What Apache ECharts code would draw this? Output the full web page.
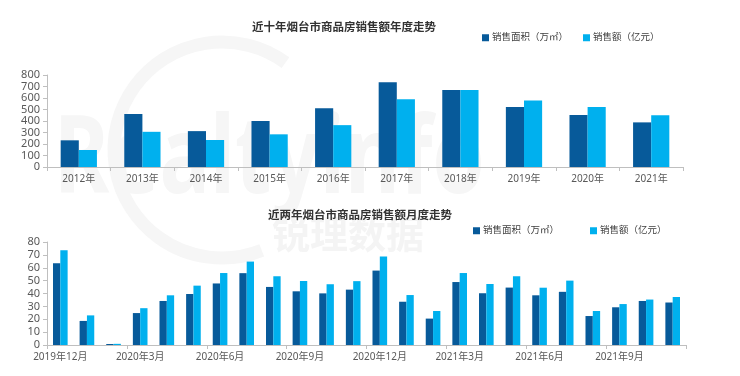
<!DOCTYPE html>
<html>
<head>
<meta charset="utf-8">
<script src="https://cdn.jsdelivr.net/npm/echarts@6/dist/echarts.min.js"></script>
<style>
  html, body { margin: 0; padding: 0; background: #fff; }
  #main { width: 740px; height: 376px; }
</style>
</head>
<body>
<div id="main"></div>
<script>
// 年度数据
const years = ['2012年', '2013年', '2014年', '2015年', '2016年', '2017年', '2018年', '2019年', '2020年', '2021年']
const yearArea = [232, 460, 312, 400, 510, 738, 670, 522, 452, 388]
const yearAmount = [148, 306, 235, 284, 364, 590, 670, 578, 522, 450]

// 月度数据 2019年12月 - 2021年11月
const months = [
  '2019年12月', '2020年1月', '2020年2月', '2020年3月', '2020年4月', '2020年5月',
  '2020年6月', '2020年7月', '2020年8月', '2020年9月', '2020年10月', '2020年11月',
  '2020年12月', '2021年1月', '2021年2月', '2021年3月', '2021年4月', '2021年5月',
  '2021年6月', '2021年7月', '2021年8月', '2021年9月', '2021年10月', '2021年11月'
]
const monthArea = [63.5, 18.7, 0.8, 24.8, 34.2, 39.6, 47.8, 55.8, 45.1, 41.7, 40.1, 43,
  57.8, 33.6, 20.5, 48.9, 40.2, 44.6, 38.6, 41.3, 22.5, 29.3, 34.2, 33]
const monthAmount = [73.6, 23, 0.9, 28.6, 38.6, 46.1, 55.9, 64.8, 53.4, 49.7, 47.2, 49.6,
  68.7, 38.8, 26.4, 55.9, 47.4, 53.4, 44.5, 50, 26.4, 31.8, 35.3, 37.3]

const AREA = '销售面积（万㎡）'
const AMOUNT = '销售额（亿元）'
const DARK = '#075a9a'
const LIGHT = '#00b0ee'
const FONT = "'Noto Sans', 'Noto Sans CJK SC', sans-serif"
const axisGrey = '#bfbfbf'
const labelGrey = '#595959'

const chart = echarts.init(document.getElementById('main'))

function legendItem(name, left, top) {
  return {
    left, top,
    icon: 'rect',
    itemWidth: 7,
    itemHeight: 7,
    itemGap: 0,
    selectedMode: false,
    data: [name],
    textStyle: { fontSize: 9.5, color: '#404040', fontFamily: FONT, padding: [0, 0, 0, -2] }
  }
}

function yAxis(gridIndex, max, interval) {
  return {
    type: 'value',
    gridIndex, min: 0, max, interval,
    axisLine: { show: true, lineStyle: { color: axisGrey } },
    axisTick: { show: true, length: 4, lineStyle: { color: axisGrey } },
    splitLine: { show: false },
    axisLabel: { fontSize: 11, color: labelGrey, fontFamily: FONT, margin: 7 }
  }
}

const option = {
  animation: false,
  backgroundColor: '#fff',
  graphic: [
    // 水印
    {
      type: 'arc', z: -10, silent: true,
      shape: { cx: 222, cy: 150, r: 108, startAngle: -Math.PI * 0.3, endAngle: Math.PI * 0.38, clockwise: false },
      style: { stroke: '#f6f6f6', lineWidth: 13, fill: null }
    },
    {
      type: 'text', z: -10, silent: true, left: 54, top: 108,
      style: { text: 'Realtyinfo', fontSize: 108, fontWeight: 'bold', fill: '#f6f6f6', fontFamily: FONT },
      scaleX: 0.78
    },
    {
      type: 'text', z: -10, silent: true, left: 272, top: 218,
      style: { text: '锐理数据', fontSize: 38, fontWeight: 'bold', fill: '#f4f4f4', fontFamily: FONT }
    }
  ],
  title: [
    {
      text: '近十年烟台市商品房销售额年度走势', left: 252, top: 22, padding: 0,
      textStyle: { fontSize: 11.5, fontWeight: 'bold', color: '#333', fontFamily: FONT }
    },
    {
      text: '近两年烟台市商品房销售额月度走势', left: 268, top: 210, padding: 0,
      textStyle: { fontSize: 11.5, fontWeight: 'bold', color: '#333', fontFamily: FONT }
    }
  ],
  legend: [
    legendItem(AREA, 477, 28),
    legendItem(AMOUNT, 578, 28),
    legendItem(AREA, 468, 221),
    legendItem(AMOUNT, 585, 221)
  ],
  grid: [
    { left: 47, right: 57, top: 75, height: 92 },
    { left: 47, right: 54, top: 242, height: 103 }
  ],
  xAxis: [
    {
      type: 'category', gridIndex: 0, data: years,
      axisLine: { lineStyle: { color: axisGrey } },
      axisTick: { show: true, length: 4, lineStyle: { color: axisGrey } },
      axisLabel: { fontSize: 10, color: labelGrey, fontFamily: FONT, margin: 7 }
    },
    {
      type: 'category', gridIndex: 1, data: months,
      axisLine: { lineStyle: { color: axisGrey } },
      axisTick: { show: true, length: 4, interval: 2, lineStyle: { color: axisGrey } },
      axisLabel: { fontSize: 10, color: labelGrey, fontFamily: FONT, margin: 7, interval: 2 }
    }
  ],
  yAxis: [yAxis(0, 800, 100), yAxis(1, 80, 10)],
  series: [
    { name: AREA, type: 'bar', xAxisIndex: 0, yAxisIndex: 0, data: yearArea, barGap: '0%', barCategoryGap: '43%', itemStyle: { color: DARK } },
    { name: AMOUNT, type: 'bar', xAxisIndex: 0, yAxisIndex: 0, data: yearAmount, barGap: '0%', barCategoryGap: '43%', itemStyle: { color: LIGHT } },
    { name: AREA, type: 'bar', xAxisIndex: 1, yAxisIndex: 1, data: monthArea, barGap: '0%', barCategoryGap: '45%', itemStyle: { color: DARK } },
    { name: AMOUNT, type: 'bar', xAxisIndex: 1, yAxisIndex: 1, data: monthAmount, barGap: '0%', barCategoryGap: '45%', itemStyle: { color: LIGHT } }
  ]
}

chart.setOption(option)
</script>
</body>
</html>
